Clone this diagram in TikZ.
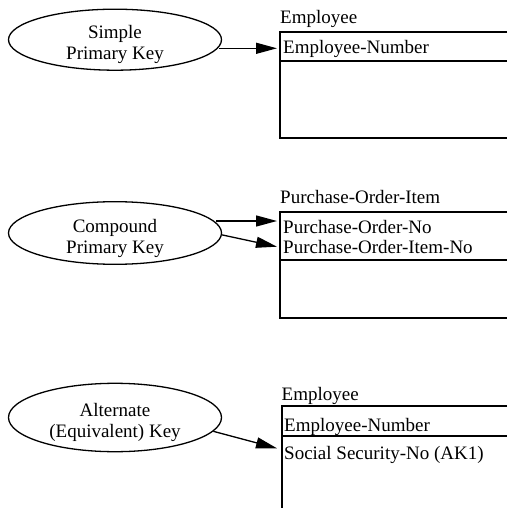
\documentclass[tikz,border=0pt]{standalone}
\usepackage{fontspec}
\setmainfont{Liberation Serif}
\usetikzlibrary{arrows.meta,shapes.geometric}
\tikzset{key/.style={draw,ellipse,line width=1.3pt,inner sep=0pt,minimum width=213pt},
  keytext/.style={align=center,inner sep=0pt,yshift=-5pt},
  keyarrow/.style={-{Triangle[length=21pt,width=11pt]},line width=1.3pt},
  entity/.style={line width=2pt},
  attr/.style={anchor=base west,inner sep=0pt}}
\begin{document}
\begin{tikzpicture}[x=1pt,y=-1pt,font=\fontsize{19}{21}\selectfont]
\useasboundingbox(0,0)rectangle(507,508);
\node[key,minimum height=61pt](K1)at(115,39.7){};
\node[key,minimum height=62.6pt](K2)at(115,233){};
\node[key,minimum height=68.4pt](K3)at(115,417.5){};
\node[keytext](K1t)at(K1){Simple\\Primary Key};
\node[keytext](K2t)at(K2){Compound\\Primary Key};
\node[keytext](K3t)at(K3){Alternate\\(Equivalent) Key};
\node[attr](E1)at(280,24){Employee};
\node[attr](E2)at(280,203){Purchase-Order-Item};
\node[attr](E3)at(281.5,400){Employee};
\node[attr](A1)at(283,53.3){Employee-Number};
\node[attr](A2)at(283,233.3){Purchase-Order-No};
\node[attr](A3)at(283,253.3){Purchase-Order-Item-No};
\node[attr](A4)at(284,431.7){Employee-Number};
\node[attr](A5)at(284,459.3){Social Security-No (AK1)};
\draw[entity](507,31.7)-|(279.5,138.3)--(507,138.3)(279.5,60.7)--(507,60.7);
\draw[entity](507,211.7)-|(280,318.3)--(507,318.3)(280,260)--(507,260);
\draw[entity](507,405.5)-|(281.5,510)(281.5,436)--(507,436);
\coordinate(T1)at(277,48.3);
\coordinate(T2)at(277,221);
\coordinate(T3)at(277,246.7);
\coordinate(T4)at(277,448.3);
\draw[keyarrow](K1.-4.8|-T1)--(T1);
\draw[keyarrow](K2.6.9|-T2)--(T2);
\draw[keyarrow](K2.-1)--(T3);
\draw[keyarrow](K3.-8.5)--(T4);
\end{tikzpicture}
\end{document}
